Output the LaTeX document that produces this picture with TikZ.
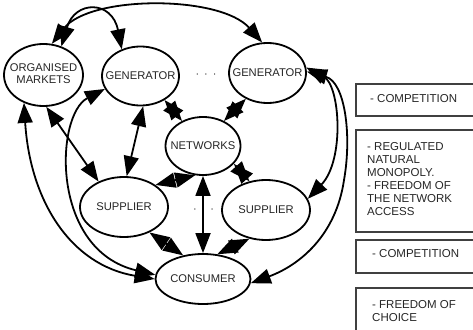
\documentclass[tikz,border=0pt]{standalone}
\usepackage{fontspec}
\setmainfont{Liberation Sans}
\usetikzlibrary{shapes.geometric,arrows.meta}
\begin{document}
\begin{tikzpicture}[x=1pt,y=-1pt,
  ell/.style={ellipse, draw=black, line width=1.8pt, fill=white, inner sep=0pt,
    font=\fontsize{11.2}{12.5}\selectfont, text=black!85},
  arr/.style={line width=1.8pt, {Triangle[length=20pt,width=15pt]}-{Triangle[length=20pt,width=15pt]}},
  box/.style={draw=black!75, line width=1.4pt},
  boxtext/.style={inner sep=0pt, font=\fontsize{11.5}{13}\selectfont, text=black!85, align=left},
  dots/.style={inner sep=0pt, font=\fontsize{11}{12}\selectfont, text=black!80}
]
\useasboundingbox (0,0) rectangle (473,329);
\clip (0,0) rectangle (473,329);

% nodes
\node[ell, minimum width=79pt, minimum height=62pt] (om) at (43.5,75)
  {\makebox[0pt]{\begin{tabular}{@{}c@{}}ORGANISED\\MARKETS\end{tabular}}};
\node[ell, minimum width=77pt, minimum height=59pt] (gen1) at (140.5,76) {\makebox[0pt]{GENERATOR}};
\node[ell, minimum width=77pt, minimum height=60pt] (gen2) at (267.5,73) {\makebox[0pt]{GENERATOR}};
\node[ell, minimum width=75pt, minimum height=58pt] (net) at (203,146) {\makebox[0pt]{NETWORKS}};
\node[ell, minimum width=88pt, minimum height=60pt] (sup1) at (124,207) {\makebox[0pt]{SUPPLIER}};
\node[ell, minimum width=88pt, minimum height=60pt] (sup2) at (266,210) {\makebox[0pt]{SUPPLIER}};
\node[ell, minimum width=95pt, minimum height=50pt] (con) at (203,279) {\makebox[0pt]{CONSUMER}};

\node[dots] (d1) at (206,76) {·\hspace{5pt}·\hspace{5pt}·};
\node[dots] (d2) at (203.5,211) {·\hspace{5pt}·\hspace{5pt}·};

% connectors
\draw[arr] (om.75) .. controls (90,-5) and (220,-5) .. (gen2.100);
\draw[arr] (om.58) .. controls (75,0) and (112,0) .. (gen1.125);
\draw[arr] (gen2.8) .. controls (340,85) and (345,160) .. (sup2.15);
\draw[arr] (gen2.2) .. controls (345,82) and (352,135) .. (344,180) .. controls (336,235) and (300,265) .. (con.-5);
\draw[arr] (om.235) .. controls (30,200) and (70,265) .. (con.180);
\draw[arr] (gen1.200) .. controls (55,115) and (50,250) .. (con.175);
\draw[arr] (om.-85) -- (sup1.135);
\draw[arr] (gen1.-85) -- (sup1.85);
\draw[arr] (gen1.-45) -- (net.130);
\draw[arr] (gen2.-130) -- (net.50);
\draw[arr] (sup1.35) -- (net.-105);
\draw[arr] (net.-30) -- (sup2.120);
\draw[arr] (net.-90) -- (con.90);
\draw[arr] (sup1.-45) -- (con.130);
\draw[arr] (sup2.-120) -- (con.60);

% right boxes
\draw[box] (356,84) rectangle (480,116);
\draw[box] (356,130) rectangle (480,232);
\draw[box] (356,240) rectangle (480,273);
\draw[box] (356,288) rectangle (480,340);

\node[boxtext, anchor=west] (t1) at (370,99) {- COMPETITION};
\node[boxtext, anchor=north west] (t2) at (367,142)
  {- REGULATED\\NATURAL\\MONOPOLY.\\- FREEDOM OF\\THE NETWORK\\ACCESS};
\node[boxtext, anchor=west] (t3) at (372,254) {- COMPETITION};
\node[boxtext, anchor=north west] (t4) at (372,300) {- FREEDOM OF\\CHOICE};
\end{tikzpicture}
\end{document}
